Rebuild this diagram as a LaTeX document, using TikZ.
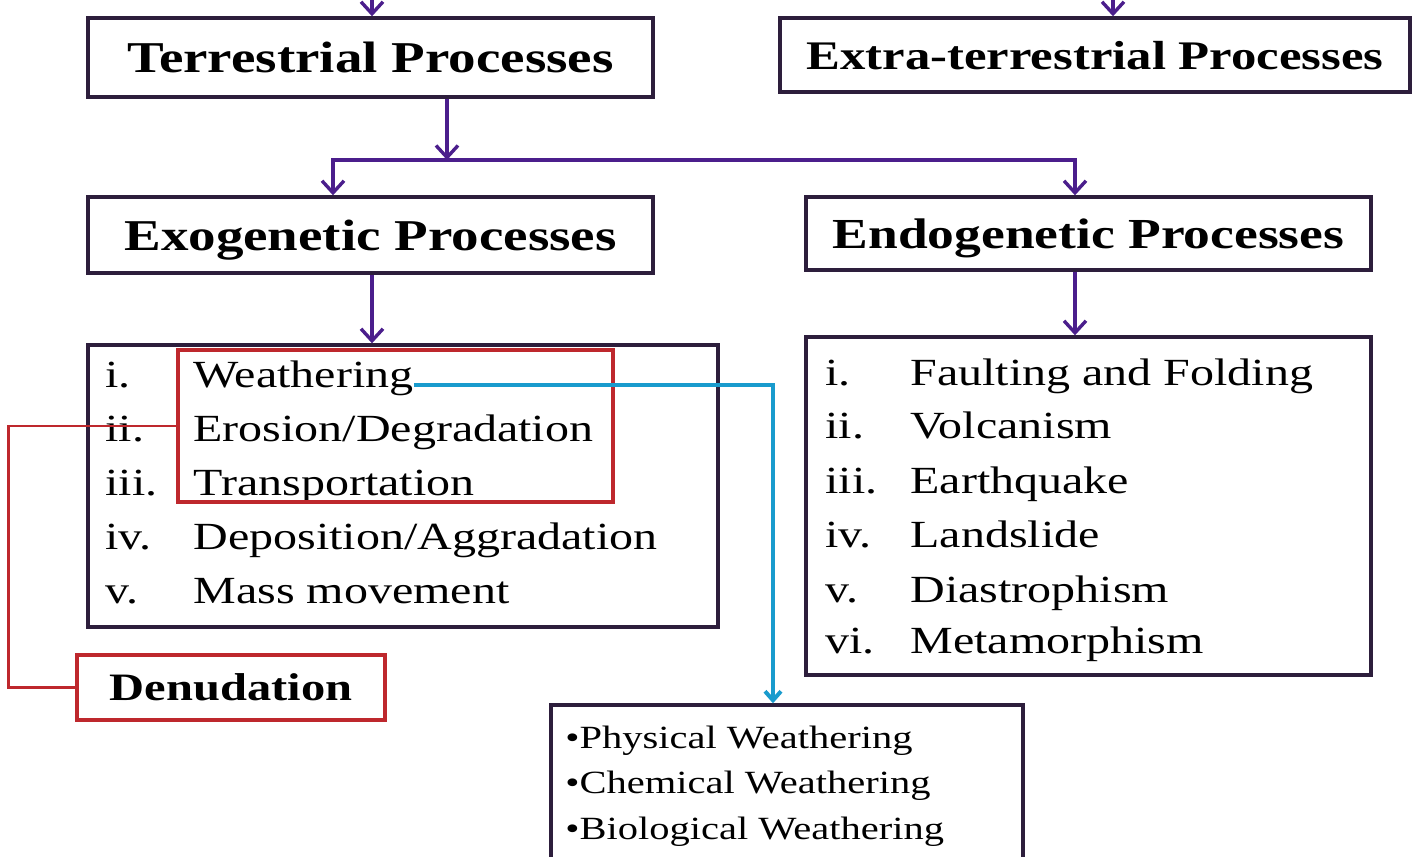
\documentclass[tikz,border=0pt]{standalone}
\usepackage{fontspec}
\setmainfont[FakeStretch=1.25]{Liberation Serif}
\usetikzlibrary{arrows.meta}

\definecolor{boxline}{RGB}{45,30,60}
\definecolor{arrowpurple}{RGB}{75,30,140}
\definecolor{groupred}{RGB}{190,40,45}
\definecolor{linkblue}{RGB}{25,155,205}

\tikzset{
	box/.style={draw=boxline, line width=1.7pt, inner sep=0pt, text depth=0pt,
		font=\bfseries\fontsize{22}{26}\selectfont},
	redbox/.style={draw=groupred, line width=1.6pt, inner sep=0pt, text depth=0pt,
		font=\bfseries\fontsize{19.4}{23}\selectfont},
	item/.style={anchor=base west, inner sep=0pt, font=\fontsize{19.2}{23}\selectfont},
	subitem/.style={anchor=base west, inner sep=0pt, font=\fontsize{16.2}{19}\selectfont},
	arr/.style={draw=arrowpurple, line width=1.7pt, -{Straight Barb[length=6pt,width=11pt]}},
	redline/.style={draw=groupred, line width=1.4pt},
	bluearr/.style={draw=linkblue, line width=2pt, -{Straight Barb[length=4.5pt,width=8pt]}}
}

\begin{document}
\begin{tikzpicture}[x=0.5pt, y=-0.5pt]
	\useasboundingbox (0, 0) rectangle (1421, 857);
	\clip (0, 0) rectangle (1421, 857);

	% top level
	\node[box, minimum width=282.5pt, minimum height=39.5pt] (terr) at (370.5, 57.5) {Terrestrial Processes};
	\node[box, minimum width=315pt, minimum height=37pt, font=\bfseries\fontsize{20.3}{24}\selectfont] (extra) at (1095, 55) {Extra-terrestrial Processes};

	% second level
	\node[box, minimum width=282.5pt, minimum height=38pt] (exo) at (370.5, 235) {Exogenetic Processes};
	\node[box, minimum width=282.5pt, minimum height=36.5pt, font=\bfseries\fontsize{21.4}{26}\selectfont] (endo) at (1088.5, 233.5) {Endogenetic Processes};

	% lists
	\node[box, minimum width=315pt, minimum height=141pt] (exol) at (403, 486) {};
	\node[box, minimum width=282.5pt, minimum height=169pt] (endol) at (1088.5, 506) {};

	\node[item] (xn1) at (105, 387) {i.};
	\node[item] (xn2) at (105, 441) {ii.};
	\node[item] (xn3) at (105, 495) {iii.};
	\node[item] (xn4) at (105, 549) {iv.};
	\node[item] (xn5) at (105, 603) {v.};
	\node[item] (xt1) at (193, 387) {Weathering};
	\node[item] (xt2) at (193, 441) {Erosion/Degradation};
	\node[item] (xt3) at (193, 495) {Transportation};
	\node[item] (xt4) at (193, 549) {Deposition/Aggradation};
	\node[item] (xt5) at (193, 603) {Mass movement};

	\node[item] (dn1) at (825, 385) {i.};
	\node[item] (dn2) at (825, 438) {ii.};
	\node[item] (dn3) at (825, 493) {iii.};
	\node[item] (dn4) at (825, 547) {iv.};
	\node[item] (dn5) at (825, 602) {v.};
	\node[item] (dn6) at (825, 653) {vi.};
	\node[item] (dt1) at (910, 385) {Faulting and Folding};
	\node[item] (dt2) at (910, 438) {Volcanism};
	\node[item] (dt3) at (910, 493) {Earthquake};
	\node[item] (dt4) at (910, 547) {Landslide};
	\node[item] (dt5) at (910, 602) {Diastrophism};
	\node[item] (dt6) at (910, 653) {Metamorphism};

	% denudation group
	\node[redbox, minimum width=217.5pt, minimum height=76pt] (grp) at (395.5, 426) {};
	\node[redbox, minimum width=154pt, minimum height=32.5pt] (den) at (231, 687.5) {Denudation};

	% weathering types
	\node[box, minimum width=236pt, minimum height=90pt] (weath) at (787, 795) {};
	\node[subitem] (w1) at (565, 748) {•Physical Weathering};
	\node[subitem] (w2) at (565, 793) {•Chemical Weathering};
	\node[subitem] (w3) at (565, 839) {•Biological Weathering};

	% connectors
	\coordinate (tin) at (372, -30);
	\coordinate (ein) at (1113, -30);
	\coordinate (split) at (447, 160);
	\coordinate (exin) at (333, 0);
	\coordinate (enin) at (1075, 0);
	\coordinate (exdown) at (372, 0);
	\coordinate (endown) at (1075, 0);
	\coordinate (bturn) at (773, 0);

	\draw[arr] (tin) -- (tin |- terr.north);
	\draw[arr] (ein) -- (ein |- extra.north);
	\draw[arr] (split |- terr.south) -- (split);
	\draw[arr] (split) -| (exin |- exo.north);
	\draw[arr] (split) -| (enin |- endo.north);
	\draw[arr] (exdown |- exo.south) -- (exdown |- exol.north);
	\draw[arr] (endown |- endo.south) -- (endown |- endol.north);

	\draw[redline] (grp.west) -- ++(-168, 0) |- (den.west);
	\draw[bluearr] ([yshift=1pt]xt1.base east) -| (bturn |- weath.north);
\end{tikzpicture}
\end{document}
